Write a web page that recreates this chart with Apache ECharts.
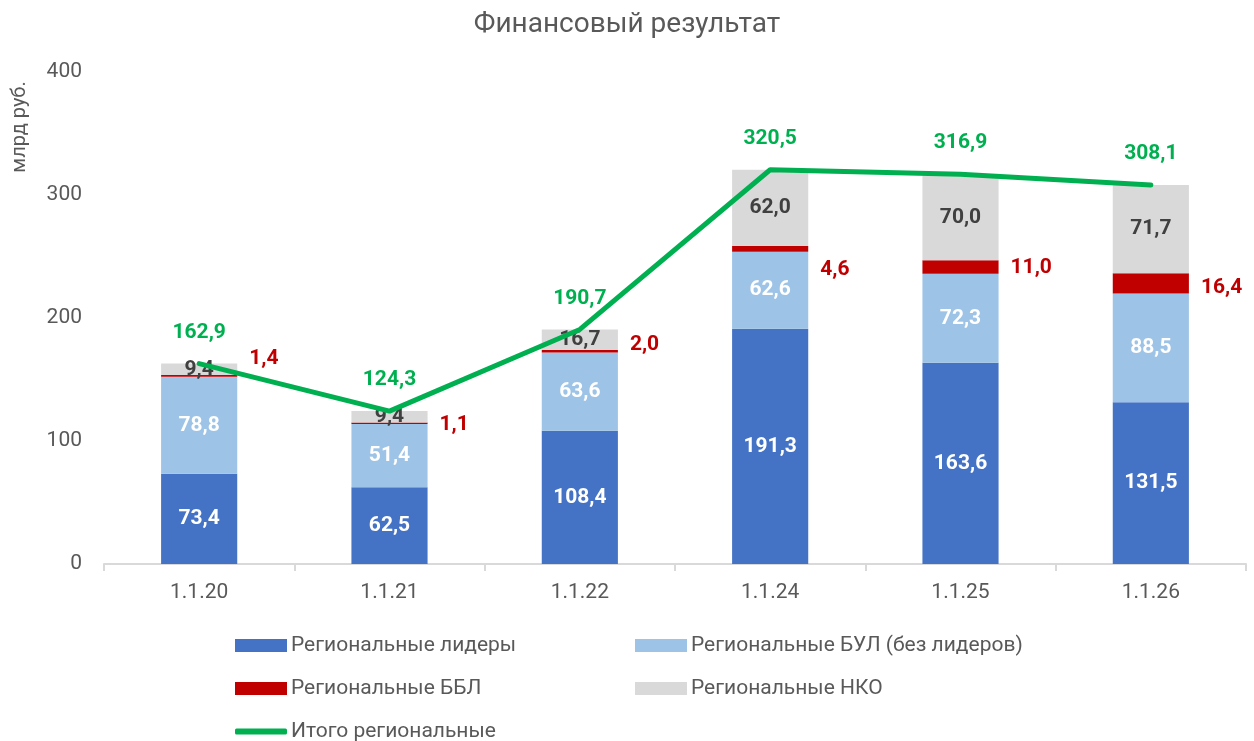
<!DOCTYPE html>
<html>
<head>
<meta charset="utf-8">
<script src="https://cdn.jsdelivr.net/npm/echarts@6/dist/echarts.min.js"></script>
<style>
  html, body { margin: 0; padding: 0; background: #fff; }
  #chart { width: 1254px; height: 741px; }
</style>
</head>
<body>
<div id="chart"></div>
<script>
// Categories (report dates) and components of the regional financial result, bn rub.
const categories = ['1.1.20', '1.1.21', '1.1.22', '1.1.24', '1.1.25', '1.1.26'];
const leaders    = [73.4, 62.5, 108.4, 191.3, 163.6, 131.5];
const bulOther   = [78.8, 51.4, 63.6, 62.6, 72.3, 88.5];
const bbl        = [1.4, 1.1, 2.0, 4.6, 11.0, 16.4];
const nko        = [9.4, 9.4, 16.7, 62.0, 70.0, 71.7];
const totals     = [162.9, 124.3, 190.7, 320.5, 316.9, 308.1];
const yTicks     = [0, 100, 200, 300, 400];

const names = {
  leaders: 'Региональные лидеры',
  bul: 'Региональные БУЛ (без лидеров)',
  bbl: 'Региональные ББЛ',
  nko: 'Региональные НКО',
  total: 'Итого региональные'
};

// vertical nudges for the small red labels placed beside the bars
const bblLabelShift = [-17, 2, -6, 21, 1, 4];

const fmt = v => v.toFixed(1).replace('.', ',');
const txt = '#595959';
const font = 'Roboto';

const chart = echarts.init(document.getElementById('chart'));

const valueLabel = (color, position) => ({
  show: true,
  position: position,
  color: color,
  fontFamily: font,
  fontWeight: 'bold',
  fontSize: 21,
  formatter: p => fmt(p.value)
});

const legendBase = {
  orient: 'horizontal',
  padding: 0,
  itemWidth: 52,
  itemHeight: 13,
  itemGap: 40,
  icon: 'rect',
  textStyle: { color: txt, fontFamily: font, fontSize: 21, padding: [0, 0, 0, -1] },
  selectedMode: false
};

chart.setOption({
  animation: false,
  backgroundColor: '#ffffff',
  title: {
    text: 'Финансовый результат',
    left: 'center',
    top: 6,
    textStyle: { color: txt, fontFamily: font, fontSize: 28, fontWeight: 'normal' }
  },
  graphic: [{
    type: 'text',
    x: 20,
    y: 127,
    rotation: Math.PI / 2,
    style: {
      text: 'млрд руб.',
      fill: txt,
      font: '20px ' + font,
      textAlign: 'center',
      textVerticalAlign: 'middle'
    }
  }],
  legend: [
    Object.assign({}, legendBase, { data: [names.leaders], left: 235, top: 635 }),
    Object.assign({}, legendBase, { data: [names.bul], left: 635, top: 635 }),
    Object.assign({}, legendBase, { data: [names.bbl], left: 235, top: 678 }),
    Object.assign({}, legendBase, { data: [names.nko], left: 635, top: 678 }),
    Object.assign({}, legendBase, { data: [names.total], left: 235, top: 721, icon: 'roundRect', itemHeight: 6 })
  ],
  grid: { left: 104, right: 8, top: 72, bottom: 177, containLabel: false },
  xAxis: {
    type: 'category',
    data: categories,
    axisLine: { show: true, lineStyle: { color: '#D9D9D9', width: 2 } },
    axisTick: { show: true, length: 7, lineStyle: { color: '#D9D9D9', width: 2 } },
    axisLabel: { color: txt, fontFamily: font, fontSize: 21, margin: 18 }
  },
  yAxis: {
    type: 'value',
    min: yTicks[0],
    max: yTicks[yTicks.length - 1],
    interval: 100,
    splitLine: { show: false },
    axisLine: { show: false },
    axisTick: { show: false },
    axisLabel: { color: txt, fontFamily: font, fontSize: 21, margin: 22 }
  },
  series: [
    {
      name: names.leaders, type: 'bar', stack: 'total', barWidth: '40%',
      itemStyle: { color: '#4472C4' },
      label: valueLabel('#ffffff', 'inside'),
      data: leaders
    },
    {
      name: names.bul, type: 'bar', stack: 'total',
      itemStyle: { color: '#9DC3E6' },
      label: valueLabel('#ffffff', 'inside'),
      data: bulOther
    },
    {
      name: names.bbl, type: 'bar', stack: 'total',
      itemStyle: { color: '#C00000' },
      data: bbl.map((v, i) => ({
        value: v,
        label: Object.assign(valueLabel('#C00000', 'right'), { distance: 12, offset: [0, bblLabelShift[i]] })
      }))
    },
    {
      name: names.nko, type: 'bar', stack: 'total',
      itemStyle: { color: '#D9D9D9' },
      label: valueLabel('#404040', 'inside'),
      data: nko
    },
    {
      name: names.total, type: 'line',
      data: totals,
      symbol: 'circle', symbolSize: 1,
      itemStyle: { color: '#00B050' },
      lineStyle: { color: '#00B050', width: 5, cap: 'round', join: 'round' },
      label: Object.assign(valueLabel('#00B050', 'top'), { distance: 20 }),
      z: 5
    }
  ]
});
</script>
</body>
</html>
